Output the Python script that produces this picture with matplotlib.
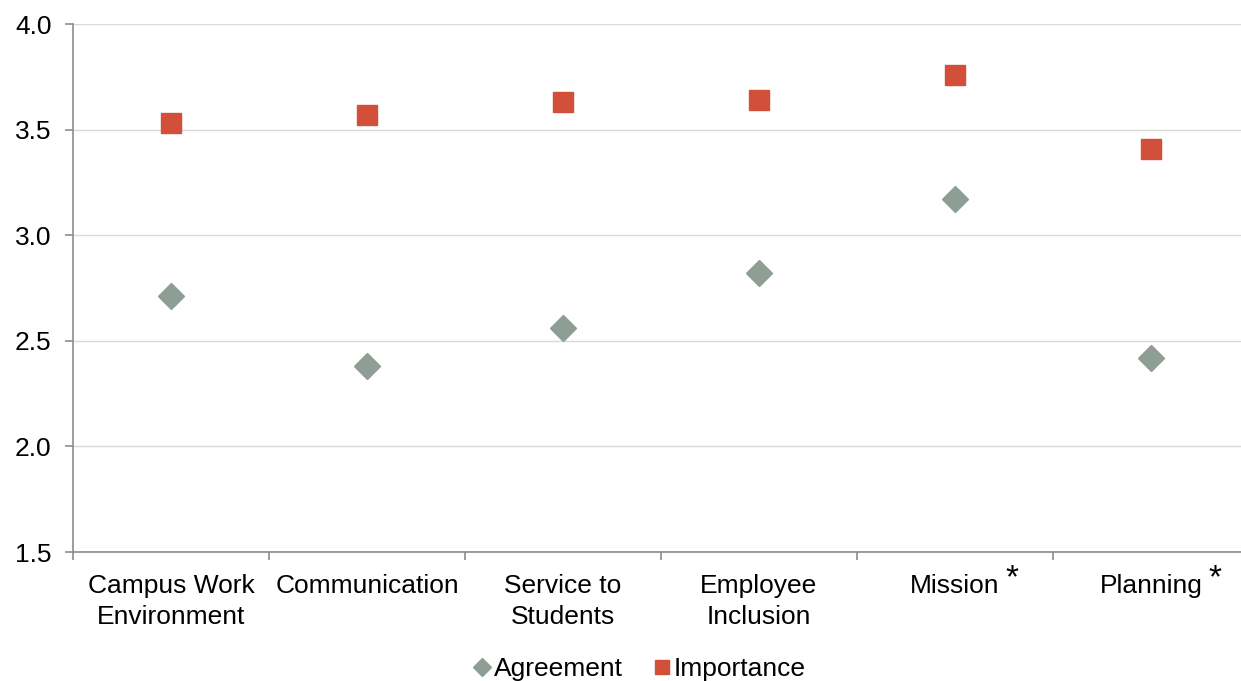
import matplotlib
matplotlib.use("Agg")
import matplotlib.pyplot as plt
import numpy as np

# data
categories = ["Campus Work\nEnvironment", "Communication", "Service to\nStudents",
              "Employee\nInclusion", "Mission", "Planning"]
starred = ["Mission", "Planning"]
agreement = [2.71, 2.38, 2.56, 2.82, 3.17, 2.42]
importance = [3.53, 3.57, 3.63, 3.64, 3.76, 3.41]
y_ticks = [1.5, 2.0, 2.5, 3.0, 3.5, 4.0]

grey_ = '#8E9E94'
red_ = '#D2503A'
grid_ = '#D9D9D9'
spine_ = '#8C8C8C'
font_size = 19

plt.rcParams['font.family'] = ['Liberation Sans', 'DejaVu Sans']
plt.rcParams['font.size'] = font_size

fig = plt.figure(figsize=(12.41, 6.81), dpi=100)
ax = fig.add_axes([73 / 1241, 1 - 552 / 681, 1176 / 1241, 528 / 681])

x = np.arange(len(categories))
ax.plot(x, agreement, linestyle='none', marker='D', markersize=13.5,
        color=grey_, label='Agreement', zorder=3)
ax.plot(x, importance, linestyle='none', marker='s', markersize=14.5,
        color=red_, label='Importance', zorder=3)

ax.set_xlim(-0.5, len(categories) - 0.5)
ax.set_ylim(1.5, 4.0)
ax.set_yticks(y_ticks)
ax.set_yticklabels(["%.1f" % v for v in y_ticks])

# boundary ticks (major, no label), category labels on minor ticks
ax.set_xticks(np.arange(-0.5, len(categories), 1.0))
ax.set_xticklabels([])
ax.set_xticks(x, minor=True)
ax.set_xticklabels(categories, minor=True, fontsize=font_size, linespacing=1.35)
ax.tick_params(axis='x', which='minor', length=0, pad=16)
ax.tick_params(axis='x', which='major', length=6, color=spine_, width=1.2)
ax.tick_params(axis='y', length=6, color=spine_, width=1.2, pad=9.5, labelsize=font_size)

ax.yaxis.grid(True, color=grid_, linewidth=1)
ax.set_axisbelow(True)
for side in ['top', 'right']:
    ax.spines[side].set_visible(False)
for side in ['left', 'bottom']:
    ax.spines[side].set_color(spine_)
    ax.spines[side].set_linewidth(1.2)

fig.legend(loc='center', bbox_to_anchor=(640 / 1241, 1 - 669 / 681), ncol=2,
           frameon=False, fontsize=font_size, handlelength=0.6, handletextpad=0.15,
           columnspacing=1.2, markerscale=0.7, borderpad=0)

# asterisks after the starred labels
fig.canvas.draw()
renderer = fig.canvas.get_renderer()
for lbl in ax.get_xticklabels(minor=True):
    if lbl.get_text() in starred:
        bb = lbl.get_window_extent(renderer)
        fig.text((bb.x1 + 6) / fig.bbox.width, (bb.y1 - 5) / fig.bbox.height, '*',
                 fontsize=24, ha='left', va='center')

fig.savefig("out.png", dpi=100)
